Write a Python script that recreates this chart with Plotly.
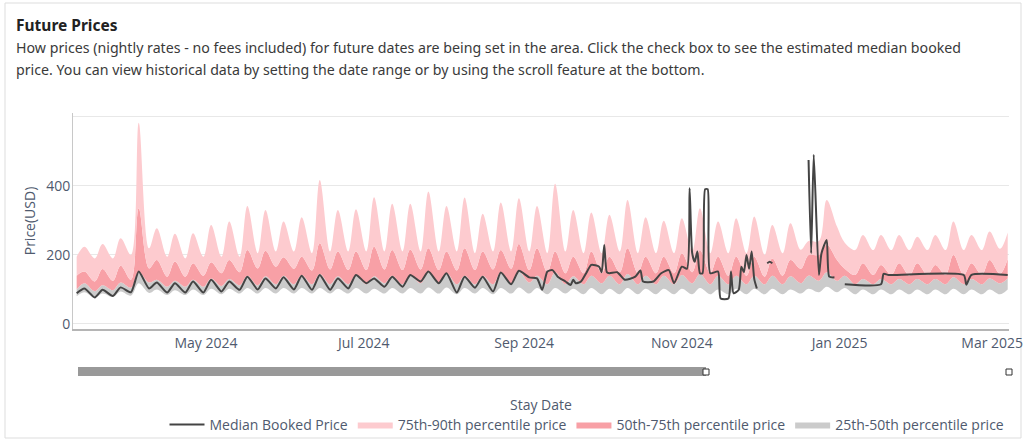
import pandas as pd
import plotly.graph_objects as go

# weekly grid: Tuesday lows and Friday highs, Mar 2024 - Mar 2025
tuesdays = pd.date_range("2024-03-12", periods=52, freq="7D")
fridays = pd.date_range("2024-03-15", periods=52, freq="7D")

p90_tue = [195, 190, 190, 200, 219, 195, 190, 195, 195, 195,
           205, 210, 210, 205, 210, 210, 210, 210, 210, 210,
           210, 210, 205, 210, 210, 210, 205, 210, 205, 205,
           210, 205, 205, 205, 210, 205, 205, 205, 200, 205,
           215, 240, 282, 214, 214, 214, 214, 214, 214, 214,
           214, 218]
p90_fri = [224, 232, 248, 583, 277, 261, 263, 287, 297, 342,
           330, 297, 309, 417, 330, 332, 367, 348, 348, 384,
           342, 366, 319, 352, 364, 342, 406, 330, 323, 316,
           359, 309, 299, 306, 335, 297, 306, 311, 287, 292,
           240, 359, 235, 258, 258, 258, 253, 258, 297, 258,
           268, 265]

p75_tue = [140, 123, 125, 128, 161, 137, 137, 140, 147, 150,
           161, 166, 160, 155, 158, 156, 156, 158, 156, 158,
           156, 155, 156, 158, 160, 156, 150, 147, 147, 147,
           150, 147, 147, 147, 150, 147, 140, 140, 137, 140,
           160, 200, 185, 142, 142, 142, 140, 142, 142, 142,
           142, 145]
p75_fri = [152, 159, 169, 335, 185, 181, 176, 179, 185, 214,
           212, 193, 195, 234, 210, 210, 224, 214, 216, 219,
           210, 219, 210, 214, 232, 219, 210, 195, 210, 195,
           219, 195, 195, 205, 214, 195, 195, 195, 190, 185,
           200, 230, 160, 176, 171, 176, 176, 171, 200, 176,
           185, 188]

p50_tue = [100, 95, 98, 105, 120, 108, 108, 108, 110, 112,
           112, 115, 115, 115, 115, 115, 115, 118, 115, 118,
           118, 115, 115, 115, 118, 120, 115, 115, 115, 118,
           115, 115, 115, 115, 118, 115, 115, 115, 115, 115,
           118, 125, 125, 115, 115, 115, 115, 115, 115, 115,
           115, 118]
p50_fri = [118, 112, 120, 150, 128, 125, 128, 132, 130, 140,
           138, 140, 142, 145, 138, 142, 138, 140, 142, 150,
           148, 140, 140, 150, 152, 140, 150, 138, 140, 140,
           145, 140, 140, 142, 145, 140, 140, 140, 140, 138,
           140, 150, 140, 130, 130, 130, 130, 130, 135, 130,
           132, 132]

p25_tue = [80, 76, 78, 82, 90, 84, 84, 84, 86, 88,
           88, 88, 88, 88, 88, 88, 88, 88, 88, 88,
           88, 86, 88, 86, 88, 88, 86, 88, 86, 86,
           86, 86, 86, 86, 86, 86, 86, 86, 86, 86,
           88, 92, 92, 86, 86, 86, 86, 86, 86, 86,
           86, 86]
p25_fri = [92, 88, 94, 118, 100, 98, 100, 102, 102, 104,
           104, 104, 104, 104, 102, 104, 102, 104, 104, 106,
           106, 104, 104, 104, 106, 104, 104, 102, 104, 102,
           104, 102, 102, 102, 104, 100, 102, 102, 102, 100,
           102, 108, 104, 100, 100, 100, 100, 100, 102, 100,
           100, 100]

# median booked price: weekly lows/highs until early Sep, then day by day
median_tue = [89, 77, 81, 92, 103, 91, 91, 91, 94, 99, 100, 103, 100,
              99, 99, 103, 118, 108, 108, 123, 118, 91, 105, 94, 115, 135]
median_fri = [103, 99, 106, 152, 120, 118, 123, 128, 123, 137, 132, 135, 140,
              142, 132, 142, 132, 137, 142, 152, 147, 137, 137, 149, 154, 132]
median_late_dates = [
    "2024-09-08", "2024-09-10", "2024-09-12", "2024-09-14", "2024-09-17",
    "2024-09-19", "2024-09-20", "2024-09-21", "2024-09-23", "2024-09-25",
    "2024-09-27", "2024-09-30", "2024-10-01", "2024-10-02", "2024-10-03",
    "2024-10-04", "2024-10-07", "2024-10-10", "2024-10-14", "2024-10-16",
    "2024-10-17", "2024-10-21", "2024-10-24", "2024-10-27", "2024-10-29",
    "2024-11-01", "2024-11-03", "2024-11-04", "2024-11-05", "2024-11-06",
    "2024-11-07", "2024-11-08", "2024-11-09", "2024-11-10", "2024-11-11",
    "2024-11-12", "2024-11-15", "2024-11-16", "2024-11-19", "2024-11-20",
    "2024-11-21", "2024-11-23", "2024-11-24", "2024-11-25", "2024-11-26",
    "2024-11-27", "2024-11-28", "2024-11-29", "2024-11-30", "2024-12-02",
    "2024-12-04", "2024-12-05", "2024-12-06", "2024-12-12", "2024-12-20",
    "2024-12-21", "2024-12-22", "2024-12-24", "2024-12-25", "2024-12-27",
    "2024-12-28", "2024-12-30", "2025-01-01", "2025-01-03", "2025-01-17",
    "2025-01-18", "2025-01-20", "2025-02-18", "2025-02-19", "2025-02-21",
    "2025-03-07",
]
median_late = [
    99, 152, 156, 137, 123,
    113, 128, 118, 123, 147,
    171, 166, 150, 229, 150,
    147, 150, 128, 137, 155,
    123, 123, 147, 156, 118,
    166, 160, 393, 205, 180,
    210, 147, 147, 390, 390,
    147, 152, 74, 74, 152,
    89, 99, 166, 150, 200,
    160, 210, 130, 103, None,
    176, 180, 176, None, 475,
    205, 490, 142, 205, 243,
    137, 135, None, 115, 115,
    145, 142, 142, 114, 142,
    142,
]

month_ticks = ["2024-05-01", "2024-07-01", "2024-09-01", "2024-11-01", "2025-01-01", "2025-03-01"]
month_labels = ["May 2024", "Jul 2024", "Sep 2024", "Nov 2024", "Jan 2025", "Mar 2025"]


def weave(lows, highs):
    out = []
    for lo, hi in zip(lows, highs):
        out += [lo, hi]
    return out


stay_dates = weave(list(tuesdays), list(fridays))
median_dates = weave(list(tuesdays[:26]), list(fridays[:26])) + list(pd.to_datetime(median_late_dates))
median_vals = weave(median_tue, median_fri) + median_late

# plot area in pixels
L, R, T, B = 73, 1009, 113, 329
W, H = 1024, 441


def px(x, y):
    return (x - L) / (R - L), (B - y) / (B - T)


TXT = "#4f5a6e"
FONT = "Open Sans"

fig = go.Figure()
fig.add_trace(go.Scatter(x=stay_dates, y=weave(p25_tue, p25_fri), mode="lines",
                         line=dict(width=0, shape="spline"), showlegend=False, hoverinfo="skip"))
bands = [
    ("25th-50th percentile price", weave(p50_tue, p50_fri), "#cbcbcb", 4),
    ("50th-75th percentile price", weave(p75_tue, p75_fri), "#f8a0a6", 3),
    ("75th-90th percentile price", weave(p90_tue, p90_fri), "#fdcbcf", 2),
]
for name, vals, color, rank in bands:
    fig.add_trace(go.Scatter(x=stay_dates, y=vals, name=name, mode="lines", fill="tonexty",
                             fillcolor=color, line=dict(width=0, shape="spline", color=color),
                             legendrank=rank))
fig.add_trace(go.Scatter(x=median_dates, y=median_vals, name="Median Booked Price", mode="lines",
                         line=dict(color="#444444", width=2, shape="spline", smoothing=0.6),
                         connectgaps=False, legendrank=1))

shapes = []
# outer frame
x0, y0 = px(5, 3)
x1, y1 = px(1021, 438)
shapes.append(dict(type="rect", xref="paper", yref="paper", x0=x0, y0=y0, x1=x1, y1=y1,
                   line=dict(color="#dddddd", width=1), layer="below"))
# scrollbar
x0, y0 = px(78, 367)
x1, y1 = px(706, 376)
shapes.append(dict(type="rect", xref="paper", yref="paper", x0=x0, y0=y0, x1=x1, y1=y1,
                   fillcolor="#999999", line=dict(width=0)))
for hx in (706, 1009):
    x0, y0 = px(hx - 3, 369)
    x1, y1 = px(hx + 3, 375)
    shapes.append(dict(type="rect", xref="paper", yref="paper", x0=x0, y0=y0, x1=x1, y1=y1,
                       fillcolor="white", line=dict(color="#333333", width=1)))

annotations = []
ax, ay = px(14, 25)
annotations.append(dict(text="<b>Future Prices</b>", x=ax, y=ay, xref="paper", yref="paper",
                        xanchor="left", yanchor="middle", showarrow=False,
                        font=dict(family="Noto Sans", size=15.5, color="#222222")))
desc = ["How prices (nightly rates - no fees included) for future dates are being set in the area. "
        "Click the check box to see the estimated median booked",
        "price. You can view historical data by setting the date range or by using the scroll feature at the bottom."]
for line, yy in zip(desc, (47, 70)):
    ax, ay = px(14, yy)
    annotations.append(dict(text=line, x=ax, y=ay, xref="paper", yref="paper",
                            xanchor="left", yanchor="middle", showarrow=False,
                            font=dict(family="Noto Sans", size=14.2, color="#3a3a3a")))
ax, ay = px(541, 404)
annotations.append(dict(text="Stay Date", x=ax, y=ay, xref="paper", yref="paper",
                        xanchor="center", yanchor="middle", showarrow=False,
                        font=dict(family=FONT, size=14, color=TXT)))

fig.update_layout(
    width=W, height=H,
    margin=dict(l=L, r=W - R, t=T, b=H - B, pad=0, autoexpand=False),
    paper_bgcolor="white", plot_bgcolor="white",
    font=dict(family=FONT, size=14, color=TXT),
    showlegend=True,
    legend=dict(orientation="h", xref="container", yref="container",
                x=587 / W, y=1 - 425 / H, xanchor="center", yanchor="middle",
                font=dict(family=FONT, size=14, color=TXT), traceorder="normal",
                itemwidth=35, bgcolor="rgba(0,0,0,0)"),
    shapes=shapes,
    annotations=annotations,
    xaxis=dict(range=["2024-03-10 14:00", "2025-03-07 12:00"], tickvals=month_ticks,
               ticktext=month_labels, showgrid=False, showline=True, linecolor="#b5b5b5",
               linewidth=2, ticks="", zeroline=False, automargin=False,
               tickfont=dict(size=14, color=TXT)),
    yaxis=dict(range=[-14.5, 611], tickvals=[0, 200, 400, 600], ticktext=["0", "200", "400", ""],
               showgrid=True, gridcolor="#e8e8e8", gridwidth=1, showline=True, linecolor="#c8c8c8",
               linewidth=1, zeroline=False, ticks="", ticklabelstandoff=-1, automargin=False,
               title=dict(text="Price(USD)", standoff=7, font=dict(size=14, color=TXT)),
               tickfont=dict(size=14, color=TXT)),
)

fig.write_html("out.html", config={"responsive": False, "displayModeBar": False},
               post_script="document.body.style.margin='0';"
                           "document.documentElement.style.overflow='hidden';"
                           "document.body.style.overflow='hidden';")
